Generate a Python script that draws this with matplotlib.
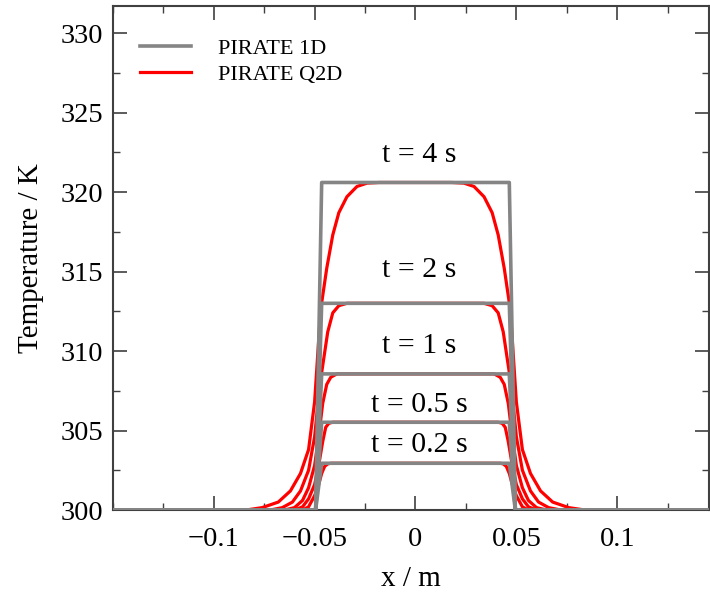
import numpy as np
import matplotlib
matplotlib.use('Agg')
from matplotlib import pyplot as plt
from matplotlib.ticker import MultipleLocator

plt.rcParams['font.family'] = ['Liberation Serif', 'DejaVu Serif']
plt.rcParams['mathtext.fontset'] = 'stix'

# Tempos e temperaturas de platô (K)
times = ['4', '2', '1', '0.5', '0.2']
plateau = [320.6, 313.0, 308.56, 305.52, 302.94]

# PIRATE 1D: nós da malha (metade esquerda, espelhada depois)
x_1d_half = [-0.15, -0.0495, -0.0465]

# PIRATE Q2D: perfis (metade esquerda)
x_q2d = {
    '4': [-0.15, -0.084, -0.076, -0.068, -0.062, -0.057, -0.053, -0.050, -0.047,
          -0.044, -0.041, -0.038, -0.034, -0.029, -0.024, -0.018, 0.0],
    '2': [-0.15, -0.072, -0.066, -0.061, -0.057, -0.053, -0.050, -0.0475, -0.0455,
          -0.0435, -0.041, -0.038, -0.034, 0.0],
    '1': [-0.15, -0.065, -0.060, -0.056, -0.053, -0.050, -0.048, -0.046, -0.044,
          -0.042, -0.039, 0.0],
    '0.5': [-0.15, -0.060, -0.056, -0.053, -0.050, -0.048, -0.046, -0.0445, -0.043,
            -0.041, 0.0],
    '0.2': [-0.15, -0.056, -0.053, -0.050, -0.048, -0.0465, -0.045, -0.0435, -0.042, 0.0],
}
T_q2d = {
    '4': [300, 300, 300.15, 300.5, 301.2, 302.3, 303.8, 306.8, 312.6,
          315.2, 317.3, 318.7, 319.7, 320.35, 320.56, 320.6, 320.6],
    '2': [300, 300, 300.15, 300.5, 301.2, 302.5, 304.6, 307.8, 309.5,
          311.2, 312.4, 312.85, 313.0, 313.0],
    '1': [300, 300, 300.15, 300.6, 301.4, 302.8, 304.6, 306.7, 307.9,
          308.35, 308.56, 308.56],
    '0.5': [300, 300, 300.2, 300.7, 301.6, 302.8, 304.3, 305.2, 305.45,
            305.52, 305.52],
    '0.2': [300, 300, 300.2, 300.9, 301.6, 302.3, 302.75, 302.9, 302.94, 302.94],
}

# posição vertical dos rótulos de tempo
label_T = [322.3, 315.1, 310.3, 306.6, 304.1]


def mirror(x, y):
    x = np.asarray(x, float)
    y = np.asarray(y, float)
    return np.concatenate([x, -x[::-1]]), np.concatenate([y, y[::-1]])


fig = plt.figure(figsize=(7.1, 5.94), dpi=100)
ax = fig.add_axes([0.159, 0.1414, 0.8396, 0.8485])

for i, t in enumerate(times):
    xr, yr = mirror(x_q2d[t], T_q2d[t])
    ax.plot(xr, yr, color='#ff0000', lw=2.3, zorder=2,
            label='PIRATE Q2D' if i == 0 else None)
    xg, yg = mirror(x_1d_half, [300, 300, plateau[i]])
    ax.plot(xg, yg, color='#858585', lw=2.6, zorder=3,
            label='PIRATE 1D' if i == 0 else None)
    ax.text(0.002, label_T[i], f't = {t} s', ha='center', va='center', fontsize=21.5)

ax.set_xlim(-0.15, 0.1455)
ax.set_ylim(300, 331.7)
ax.xaxis.set_major_locator(MultipleLocator(0.05))
ax.xaxis.set_minor_locator(MultipleLocator(0.025))
ax.yaxis.set_major_locator(MultipleLocator(5))
ax.yaxis.set_minor_locator(MultipleLocator(2.5))
ax.set_xticks([-0.1, -0.05, 0, 0.05, 0.1])
ax.set_xticklabels(['\u22120.1', '\u22120.05', '0', '0.05', '0.1'])

ax.tick_params(which='both', direction='in', top=True, right=True,
               colors='#404040', labelcolor='black', labelsize=20.5)
ax.tick_params(which='major', length=10, width=1.2)
ax.tick_params(which='minor', length=5, width=1.0)
ax.tick_params(axis='x', pad=12)
ax.tick_params(axis='y', pad=7)
for s in ax.spines.values():
    s.set_color('#404040')
    s.set_linewidth(1.5)

ax.set_xlabel('x / m', fontsize=21, labelpad=10)
ax.set_ylabel('Temperature / K', fontsize=21, labelpad=12)

h, l = ax.get_legend_handles_labels()
order = [l.index('PIRATE 1D'), l.index('PIRATE Q2D')]
ax.legend([h[k] for k in order], [l[k] for k in order], loc='upper left',
          frameon=False, fontsize=16, handlelength=2.3, handletextpad=1.2,
          labelspacing=0.22, borderaxespad=0.5, bbox_to_anchor=(0.012, 0.975))

fig.savefig('out.png', dpi=100)
